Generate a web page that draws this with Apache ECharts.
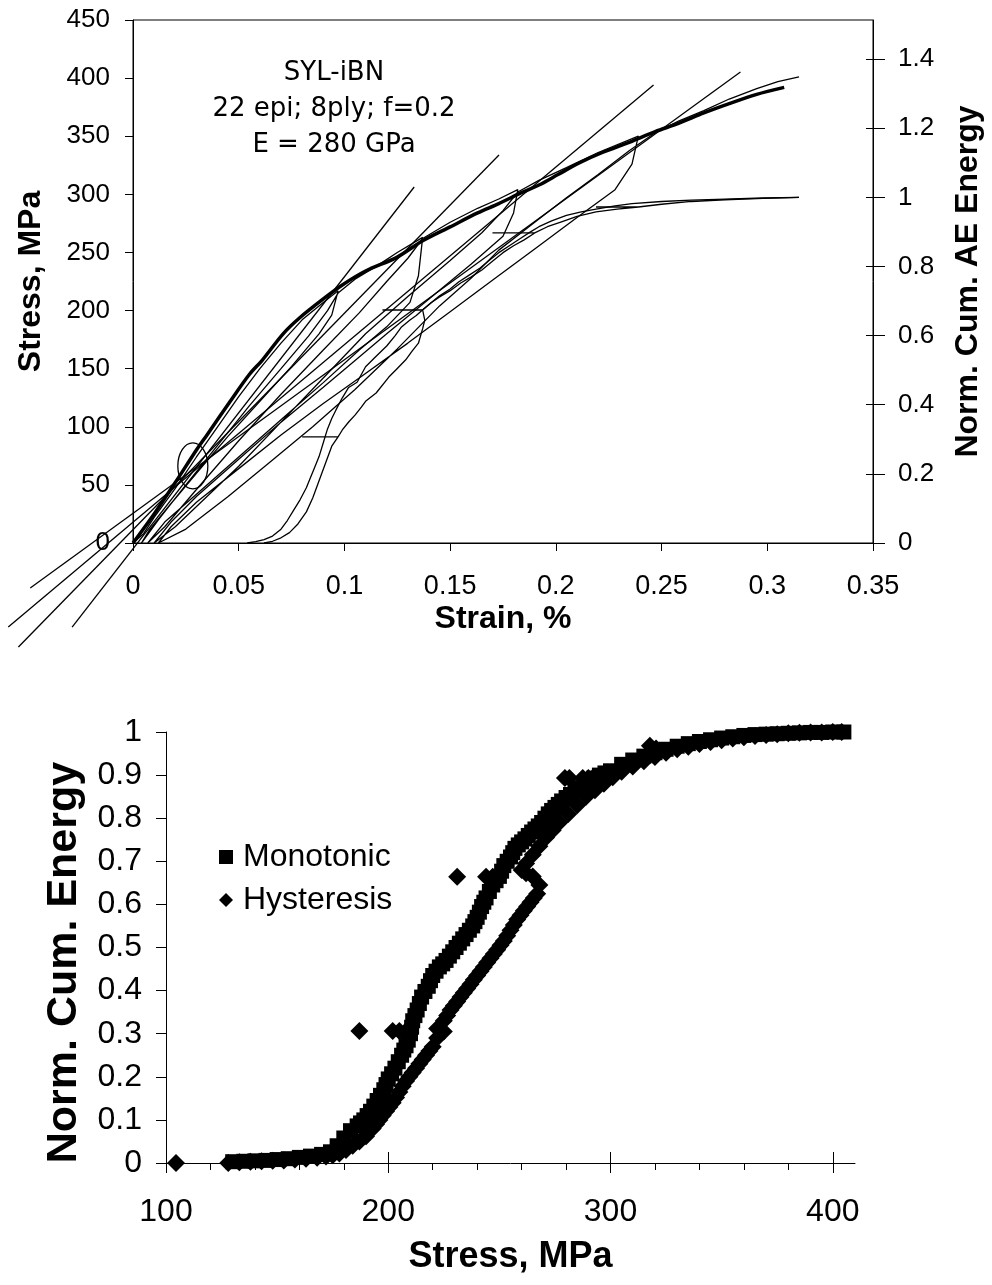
<!DOCTYPE html>
<html><head><meta charset="utf-8">
<script src="https://cdn.jsdelivr.net/npm/echarts@6/dist/echarts.min.js"></script>
<style>html,body{margin:0;padding:0;background:#fff}#c{width:992px;height:1285px}</style>
</head><body><div id="c"></div>
<script>
// ---------- TOP CHART DATA ----------
const monoStrain = [0,0.01,0.02,0.03,0.035,0.046,0.055,0.061,0.071,0.079,0.09,0.099,0.11,0.125,0.137,0.15,0.163,0.173,0.182,0.192,0.201,0.211,0.222,0.235,0.247,0.258,0.27,0.282,0.295,0.308];
const monoStress = [0,25,52,80,93,122,145,157,180,194,210,222,234,246,260,272,284,292,300,308,317,327,336,345,354,361,370,378,386,392];

const hystStrain = [0,0.005,0.01,0.02,0.03,0.04,0.05,0.06,0.07,0.08,0.09,0.097,
  0.094,0.088,0.075,0.06,0.045,0.03,0.018,0.008,0.004,
  0.012,0.025,0.04,0.055,0.07,0.083,0.092,0.097,
  0.105,0.115,0.125,0.137,
  0.135,0.131,0.12,0.107,0.09,0.07,0.05,0.03,0.015,0.007,
  0.015,0.03,0.05,0.07,0.09,0.107,0.12,0.13,0.137,
  0.15,0.163,0.173,0.182,
  0.18,0.175,0.16,0.14,0.12,0.107,0.09,0.07,0.05,0.03,0.018,0.01,
  0.02,0.035,0.05,0.07,0.09,0.11,0.13,0.15,0.165,0.175,0.182,
  0.192,0.205,0.22,0.239,
  0.236,0.228,0.21,0.19,0.17,0.15,0.13,0.107,0.09,0.07,0.05,0.03,0.018,0.012,
  0.025,0.045,0.065,0.085,0.105,0.125,0.145,0.16,0.173,0.19,0.205,0.22,0.235,0.247,
  0.258,0.27,0.282,0.295,0.305,0.315];
const hystStress = [0,8,22,47,74,100,126,150,172,192,207,217,
  196,180,152,122,92,60,34,12,0,
  20,50,84,118,150,178,200,215,
  227,238,250,263,
  230,207,186,166,138,106,74,42,18,0,
  14,46,88,128,166,198,225,245,262,
  276,288,296,304,
  284,264,240,210,180,160,134,104,72,40,18,0,
  14,40,66,104,142,180,212,243,267,286,302,
  312,323,336,350,
  326,304,280,253,226,199,172,142,120,93,64,35,14,0,
  12,40,70,100,132,167,204,228,252,276,297,317,338,353,
  363,372,382,391,397,401];

// tangent (modulus) lines: [strain1, stress1, strain2, stress2]
const tangent1 = [-0.0288,-72.3,0.133,306.3];
const tangent2 = [-0.0542,-89.5,0.1731,333.8];
const tangent3 = [-0.059,-72.3,0.2462,394];
const tangent4 = [-0.0486,-38.7,0.2873,405.3];

// normalized cumulative AE energy vs strain
const aeMonoStrain = [0.054,0.058,0.062,0.066,0.07,0.073,0.076,0.079,0.082,0.084,0.086,0.088,0.09,0.092,0.094,0.096,0.099,0.102,0.106,0.11,0.115,0.12,0.124,0.127,0.131,0.134,0.137,0.141,0.145,0.15,0.154,0.159,0.164,0.169,0.173,0.178,0.183,0.188,0.192,0.198,0.205,0.212,0.219,0.228,0.236,0.25,0.264,0.28,0.298,0.315];
const aeMonoEnergy = [0,0.004,0.01,0.02,0.04,0.065,0.095,0.125,0.16,0.19,0.22,0.25,0.29,0.33,0.36,0.385,0.42,0.45,0.465,0.51,0.54,0.57,0.6,0.625,0.645,0.658,0.675,0.695,0.715,0.735,0.755,0.775,0.795,0.82,0.84,0.86,0.88,0.9,0.915,0.932,0.948,0.958,0.966,0.975,0.982,0.988,0.992,0.995,0.998,1.0];
const aeHystStrain = [0.062,0.066,0.07,0.074,0.078,0.082,0.085,0.088,0.091,0.094,0.097,0.080,0.097,0.099,0.102,0.105,0.108,0.11,0.115,0.121,0.125,0.129,0.132,0.135,0.137,0.138,0.137,0.118,0.137,0.141,0.145,0.15,0.155,0.16,0.165,0.17,0.175,0.18,0.185,0.19,0.17,0.19,0.196,0.203,0.21,0.219,0.229,0.239,0.219,0.239,0.25,0.264,0.28,0.298,0.315];
const aeHystEnergy = [0,0.005,0.015,0.03,0.055,0.09,0.13,0.18,0.23,0.28,0.307,0.307,0.307,0.327,0.35,0.37,0.393,0.41,0.434,0.48,0.505,0.53,0.555,0.578,0.62,0.645,0.674,0.674,0.674,0.695,0.712,0.73,0.752,0.77,0.79,0.815,0.84,0.86,0.877,0.897,0.897,0.897,0.915,0.93,0.945,0.958,0.966,0.972,0.972,0.972,0.98,0.988,0.993,0.997,1.0];

// annotation ellipse: [centre strain, centre stress, half-width strain, half-height stress]
const ellipseMark = [0.0283,66.3,0.0071,19.8];
const aeTicks = [0,0.2,0.4,0.6,0.8,1,1.2,1.4];
const noteLines = ['SYL-iBN','22 epi; 8ply; f=0.2','E = 280 GPa'];

// ---------- BOTTOM CHART DATA ----------
const bMonoStress = [130,135,140,145,150,155,160,165,170,174,177,180,183,186,189,192,195,198,200,203,206,208,210,211,213,215,218,220,223,226,229,232,235,238,240,242,244,247,250,252,255,257,260,263,266,269,272,275,278,282,286,290,295,300,305,310,315,320,325,330,335,340,345,350,355,360,365,370,375,380,385,390,395,400,405,
  187.5,190.5,193.5,196.5,199,201.5,204.5,207,209,210.5,212,214,216.5,219,221.5,224.5,227.5,230.5,233.5,236.5,239,241,243,245.5,248.5,251,253.5,256,258.5,261.5,264.5,267.5,270.5,273.5,276.5,280,284,288,292.5,297.5];
const bMonoEnergy = [0.003,0.004,0.005,0.006,0.008,0.010,0.013,0.016,0.020,0.026,0.040,0.058,0.075,0.086,0.100,0.120,0.145,0.170,0.195,0.220,0.250,0.272,0.300,0.330,0.355,0.385,0.410,0.435,0.455,0.470,0.490,0.510,0.530,0.550,0.570,0.595,0.615,0.645,0.665,0.690,0.710,0.730,0.745,0.760,0.775,0.790,0.810,0.825,0.840,0.855,0.870,0.885,0.900,0.910,0.925,0.935,0.944,0.952,0.960,0.967,0.973,0.978,0.982,0.986,0.989,0.992,0.994,0.995,0.996,0.997,0.998,0.999,0.999,1.000,1.000,
  0.093,0.110,0.132,0.157,0.182,0.207,0.235,0.262,0.285,0.315,0.342,0.370,0.398,0.423,0.445,0.462,0.480,0.500,0.520,0.540,0.560,0.582,0.605,0.630,0.655,0.677,0.700,0.720,0.738,0.752,0.768,0.782,0.800,0.818,0.832,0.848,0.862,0.878,0.893,0.905];
const bHystStress = [104.5,128,133,138,143,148,153,158,163,168,172,175,178,181,184,187,190,193,196,199,202,205,208,211,214,217,220,222,225,222,225,228,231,234,237,240,243,246,249,252,255,258,261,264,267,268,265,262,260,
  262,265,268,271,274,277,281,285,289,293,297,301,305,310,315,320,325,330,335,340,345,350,355,360,365,370,375,380,385,390,395,400,404,
  194.5,197.5,200.5,203.5,206.5,209.5,212.5,215.5,218.5,226.5,229.5,232.5,235.5,238.5,241.5,244.5,247.5,250.5,253.5,256.5,259.5,262.5,265.5,
  187,202,205,208,231,244,247,279.5,281.5,287.5,290,292,317.7,320.5];
const bHystEnergy = [0,0,0.002,0.003,0.004,0.005,0.006,0.008,0.010,0.012,0.015,0.018,0.022,0.030,0.040,0.050,0.062,0.080,0.100,0.120,0.140,0.165,0.190,0.210,0.230,0.250,0.270,0.290,0.305,0.312,0.330,0.355,0.375,0.395,0.415,0.435,0.455,0.475,0.495,0.515,0.540,0.565,0.585,0.605,0.625,0.645,0.665,0.672,0.680,
  0.695,0.715,0.735,0.755,0.772,0.790,0.810,0.830,0.850,0.865,0.880,0.895,0.908,0.920,0.932,0.942,0.952,0.960,0.966,0.972,0.977,0.981,0.985,0.988,0.991,0.993,0.995,0.997,0.998,0.999,0.999,1.000,1.000,
  0.090,0.110,0.130,0.152,0.178,0.200,0.220,0.240,0.260,0.342,0.365,0.385,0.405,0.425,0.445,0.465,0.485,0.505,0.527,0.552,0.575,0.595,0.615,
  0.306,0.306,0.306,0.306,0.664,0.664,0.664,0.893,0.893,0.893,0.893,0.893,0.968,0.962];
const bMajorTicks = [100,200,300,400];
const bMinorTicks = [120,140,160,180,220,240,260,280,320,340,360,380];

// ---------- BUILD ----------
const zip = (a,b) => a.map((v,i)=>[v,b[i]]);
const FONT = '"Liberation Sans", Arial, sans-serif';
const BLK = '#000';
const lbl = (size, margin, extra) => Object.assign({color:BLK, fontSize:size, fontFamily:FONT, margin:margin}, extra||{});
const fmt = v => String(parseFloat(Number(v).toFixed(3)));

const chart = echarts.init(document.getElementById('c'), null, {renderer:'canvas'});
const thin = {color:BLK, width:1.3};

const option = {
  animation:false,
  backgroundColor:'#fff',
  grid:[
    {left:133, top:20, width:742, height:523, show:true, borderColor:BLK, borderWidth:1, backgroundColor:'transparent'},
    {left:166, top:732, width:689, height:431}
  ],
  xAxis:[
    {gridIndex:0, type:'value', min:0, max:0.35, interval:0.05,
     axisLine:{onZero:false, lineStyle:{color:BLK,width:1}}, axisTick:{length:8, lineStyle:{color:BLK}},
     axisLabel:lbl(27,30,{formatter:fmt}), splitLine:{show:false},
     name:'Strain, %', nameLocation:'middle', nameGap:60,
     nameTextStyle:{color:BLK, fontSize:32, fontWeight:'bold', fontFamily:FONT}},
    {gridIndex:1, type:'value', min:100, max:410, position:'bottom',
     axisLine:{onZero:false, lineStyle:{color:BLK,width:1}},
     axisTick:{length:10, customValues:bMajorTicks, lineStyle:{color:BLK}},
     axisLabel:lbl(32,33,{customValues:bMajorTicks}), splitLine:{show:false},
     name:'Stress, MPa', nameLocation:'middle', nameGap:76,
     nameTextStyle:{color:BLK, fontSize:36, fontWeight:'bold', fontFamily:FONT}},
    {gridIndex:1, type:'value', min:100, max:410, position:'bottom',
     axisLine:{show:false, onZero:false}, axisLabel:{show:false}, splitLine:{show:false},
     axisTick:{inside:true, length:11, customValues:bMajorTicks, lineStyle:{color:BLK}}},
    {gridIndex:1, type:'value', min:100, max:410, position:'bottom',
     axisLine:{show:false, onZero:false}, axisLabel:{show:false}, splitLine:{show:false},
     axisTick:{length:7, customValues:bMinorTicks, lineStyle:{color:BLK}}}
  ],
  yAxis:[
    {gridIndex:0, type:'value', min:0, max:450, interval:50, position:'left',
     axisLine:{show:true, onZero:false, lineStyle:{color:BLK,width:1}}, axisTick:{show:true, length:8, lineStyle:{color:BLK}},
     axisLabel:lbl(26,23), splitLine:{show:false},
     name:'Stress, MPa', nameLocation:'middle', nameGap:86,
     nameTextStyle:{color:BLK, fontSize:32, fontWeight:'bold', fontFamily:FONT}},
    {gridIndex:0, type:'value', min:0, max:1.513, position:'right',
     axisLine:{show:true, onZero:false, lineStyle:{color:BLK,width:1}},
     axisTick:{show:true, length:12, customValues:aeTicks, lineStyle:{color:BLK}},
     axisLabel:lbl(26,25,{customValues:aeTicks, formatter:fmt}), splitLine:{show:false},
     name:'Norm. Cum. AE Energy', nameLocation:'middle', nameGap:79,
     nameTextStyle:{color:BLK, fontSize:32, fontWeight:'bold', fontFamily:FONT}},
    {gridIndex:0, type:'value', min:0, max:1.513, position:'right',
     axisLine:{show:false, onZero:false}, axisLabel:{show:false}, splitLine:{show:false},
     axisTick:{show:true, inside:true, length:7, customValues:aeTicks, lineStyle:{color:BLK}}},
    {gridIndex:1, type:'value', min:0, max:1, interval:0.1, position:'left',
     axisLine:{show:true, onZero:false, lineStyle:{color:BLK,width:1}}, axisTick:{show:true, length:10, lineStyle:{color:BLK}},
     axisLabel:lbl(32,24,{formatter:fmt}), splitLine:{show:false},
     name:'Norm. Cum. Energy', nameLocation:'middle', nameGap:80,
     nameTextStyle:{color:BLK, fontSize:43, fontWeight:'bold', fontFamily:FONT, padding:[0,30,0,0]}}
  ],
  legend:{data:['Monotonic','Hysteresis'], orient:'vertical', left:214, top:836,
    itemWidth:14, itemHeight:14, itemGap:11,
    textStyle:{color:BLK, fontSize:32, fontFamily:FONT, padding:[0,0,0,5]}},
  graphic: noteLines.map((t,i)=>({type:'text', x:334, y:73+i*36, silent:true,
    style:{text:t, fill:BLK, font:'26px "DejaVu Sans", Verdana, sans-serif', align:'center', verticalAlign:'middle', textAlign:'center', textVerticalAlign:'middle'}})),
  series:[
    {name:'mono', type:'line', xAxisIndex:0, yAxisIndex:0, data:zip(monoStrain,monoStress), symbol:'none', smooth:0.3, lineStyle:{color:BLK,width:3.5}, z:3},
    {name:'hyst', type:'line', xAxisIndex:0, yAxisIndex:0, data:zip(hystStrain,hystStress), symbol:'none', lineStyle:thin, z:3},
    {name:'tangents', type:'custom', xAxisIndex:0, yAxisIndex:0, clip:false, silent:true,
     data:[tangent1, tangent2, tangent3, tangent4],
     renderItem:(params, api)=>{
       const p1 = api.coord([api.value(0), api.value(1)]);
       const p2 = api.coord([api.value(2), api.value(3)]);
       return {type:'line', shape:{x1:p1[0], y1:p1[1], x2:p2[0], y2:p2[1]},
               style:{stroke:BLK, lineWidth:1.3}};
     }},
    {name:'aeMono', type:'line', xAxisIndex:0, yAxisIndex:1, data:zip(aeMonoStrain,aeMonoEnergy), symbol:'none', lineStyle:thin},
    {name:'aeHyst', type:'line', xAxisIndex:0, yAxisIndex:1, data:zip(aeHystStrain,aeHystEnergy), symbol:'none', lineStyle:thin},
    {name:'ellipse', type:'custom', xAxisIndex:0, yAxisIndex:0, clip:false, silent:true,
     data:[ellipseMark],
     renderItem:(params, api)=>{
       const c = api.coord([api.value(0), api.value(1)]);
       const s = api.size([api.value(2), api.value(3)]);
       return {type:'ellipse', shape:{cx:c[0], cy:c[1], rx:s[0], ry:s[1]},
               style:{fill:'none', stroke:BLK, lineWidth:1.3}};
     }},
    {name:'Monotonic', type:'scatter', xAxisIndex:1, yAxisIndex:3, data:zip(bMonoStress,bMonoEnergy),
     symbol:'rect', symbolSize:15, itemStyle:{color:BLK, opacity:1}},
    {name:'Hysteresis', type:'scatter', xAxisIndex:1, yAxisIndex:3, data:zip(bHystStress,bHystEnergy),
     symbol:'diamond', symbolSize:18, itemStyle:{color:BLK, opacity:1}}
  ]
};
chart.setOption(option);
</script>
</body></html>
